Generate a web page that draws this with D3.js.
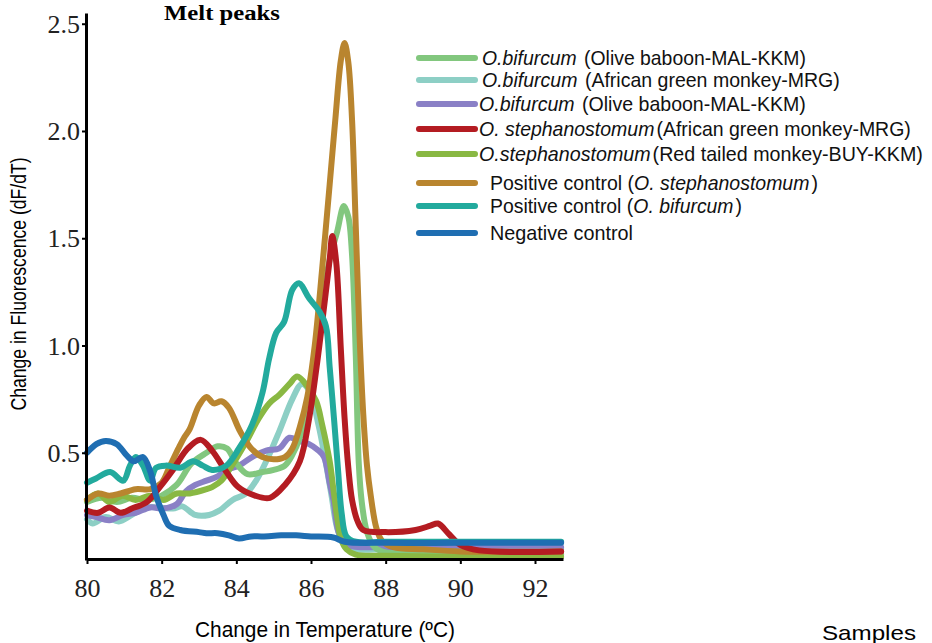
<!DOCTYPE html>
<html>
<head>
<meta charset="utf-8">
<style>
  body { margin: 0; background: #fff; }
  svg { display: block; }
</style>
</head>
<body>
<script src="https://cdn.jsdelivr.net/npm/d3@7"></script>
<script>

// melt curves, [temperature (C), dF/dT]
var bifurcumBaboon1 = [[80.0,0.27],[80.4,0.29],[80.8,0.27],[81.2,0.29],[81.6,0.28],[82.0,0.30],[82.4,0.35],[82.8,0.45],[83.2,0.50],[83.5,0.53],[83.75,0.52],[84.0,0.45],[84.3,0.40],[84.7,0.41],[85.0,0.42],[85.3,0.44],[85.5,0.49],[85.7,0.57],[85.9,0.70],[86.1,0.95],[86.3,1.20],[86.5,1.40],[86.7,1.53],[86.88,1.65],[87.0,1.60],[87.1,1.42],[87.2,0.95],[87.28,0.45],[87.36,0.27],[87.5,0.13],[87.7,0.06],[88.0,0.035],[89.0,0.03],[90.0,0.025],[91.0,0.025],[92.7,0.025]];
var bifurcumGreenMonkey = [[80.0,0.19],[80.15,0.17],[80.5,0.20],[80.85,0.18],[81.2,0.21],[81.58,0.245],[81.9,0.245],[82.3,0.24],[82.55,0.25],[82.9,0.21],[83.27,0.21],[83.54,0.23],[83.9,0.28],[84.26,0.31],[84.53,0.37],[84.8,0.46],[85.15,0.60],[85.5,0.75],[85.75,0.82],[85.95,0.79],[86.2,0.63],[86.4,0.45],[86.55,0.30],[86.7,0.15],[86.9,0.07],[87.2,0.05],[88.0,0.05],[90.0,0.05],[92.7,0.05]];
var bifurcumBaboon2 = [[80.0,0.21],[80.25,0.20],[80.6,0.185],[80.97,0.21],[81.3,0.22],[81.7,0.245],[82.05,0.24],[82.4,0.26],[82.65,0.32],[82.9,0.35],[83.2,0.37],[83.5,0.39],[83.73,0.42],[84.07,0.44],[84.42,0.48],[84.8,0.51],[85.15,0.52],[85.42,0.57],[85.68,0.555],[85.95,0.54],[86.2,0.51],[86.35,0.48],[86.5,0.36],[86.6,0.28],[86.76,0.12],[87.0,0.07],[88.0,0.06],[90.0,0.06],[92.7,0.06]];
var stephGreenMonkey = [[80.0,0.23],[80.3,0.22],[80.6,0.245],[80.9,0.22],[81.2,0.24],[81.6,0.27],[81.95,0.34],[82.3,0.42],[82.7,0.52],[83.05,0.56],[83.35,0.51],[83.7,0.42],[84.05,0.34],[84.5,0.30],[84.9,0.29],[85.3,0.35],[85.7,0.46],[85.95,0.66],[86.15,0.90],[86.35,1.18],[86.5,1.40],[86.57,1.51],[86.68,1.38],[86.8,0.98],[86.9,0.66],[87.0,0.43],[87.1,0.28],[87.25,0.18],[87.4,0.14],[88.0,0.13],[88.8,0.14],[89.2,0.16],[89.4,0.17],[89.7,0.12],[90.0,0.07],[90.5,0.045],[92.7,0.04]];
var stephRedTailed = [[80.0,0.28],[80.3,0.31],[80.6,0.27],[80.95,0.30],[81.3,0.28],[81.7,0.30],[82.05,0.28],[82.4,0.31],[82.75,0.31],[83.2,0.33],[83.35,0.34],[83.6,0.37],[83.88,0.44],[84.26,0.55],[84.6,0.66],[84.88,0.73],[85.15,0.77],[85.42,0.82],[85.63,0.855],[85.9,0.81],[86.14,0.74],[86.3,0.63],[86.5,0.46],[86.6,0.33],[86.7,0.20],[86.8,0.10],[86.95,0.05],[87.2,0.025],[88.0,0.02],[90.0,0.015],[92.7,0.015]];
var posSteph = [[80.0,0.28],[80.3,0.31],[80.6,0.30],[80.9,0.31],[81.3,0.33],[81.7,0.33],[82.0,0.36],[82.2,0.43],[82.45,0.52],[82.6,0.57],[82.75,0.61],[83.0,0.72],[83.2,0.76],[83.4,0.73],[83.6,0.74],[83.8,0.71],[84.1,0.60],[84.4,0.52],[84.7,0.48],[85.0,0.47],[85.3,0.48],[85.5,0.52],[85.7,0.62],[85.9,0.76],[86.1,1.00],[86.3,1.36],[86.5,1.75],[86.65,2.05],[86.8,2.33],[86.9,2.41],[87.0,2.32],[87.1,2.05],[87.2,1.55],[87.3,1.05],[87.4,0.68],[87.5,0.44],[87.6,0.30],[87.75,0.15],[87.9,0.09],[88.2,0.06],[89.0,0.05],[90.0,0.04],[92.7,0.04]];
var posBifurcum = [[80.0,0.36],[80.24,0.38],[80.62,0.41],[80.97,0.37],[81.15,0.44],[81.31,0.48],[81.5,0.44],[81.69,0.37],[81.85,0.43],[82.12,0.44],[82.5,0.43],[82.84,0.46],[83.1,0.44],[83.35,0.42],[83.73,0.44],[84.07,0.52],[84.42,0.63],[84.7,0.78],[84.88,0.94],[85.07,1.06],[85.28,1.11],[85.5,1.26],[85.68,1.29],[85.95,1.22],[86.22,1.16],[86.4,1.09],[86.5,0.90],[86.62,0.65],[86.72,0.43],[86.82,0.22],[86.95,0.11],[87.2,0.085],[88.0,0.085],[90.0,0.085],[92.7,0.085]];
var negControl = [[80.0,0.50],[80.25,0.54],[80.5,0.555],[80.8,0.54],[81.05,0.49],[81.25,0.46],[81.5,0.48],[81.7,0.41],[81.85,0.30],[82.05,0.21],[82.2,0.16],[82.5,0.14],[83.0,0.13],[83.2,0.125],[83.5,0.125],[83.8,0.115],[84.07,0.10],[84.4,0.11],[84.7,0.11],[85.2,0.115],[85.6,0.115],[86.0,0.11],[86.6,0.105],[86.9,0.085],[88.0,0.08],[90.0,0.08],[92.7,0.08]];

var seriesColors = ["#82c77e", "#8dcfc5", "#8a80c6", "#b41c22", "#89b843", "#b9852f", "#22aa9d", "#1f6eb2"];

// legend text, [text, italic]
var legendLabels = [
	[["O.bifurcum", 1], [" (Olive baboon-MAL-KKM)", 0]],
	[["O.bifurcum", 1], [" (African green monkey-MRG)", 0]],
	[["O.bifurcum", 1], [" (Olive baboon-MAL-KKM)", 0]],
	[["O. stephanostomum", 1], ["(African green monkey-MRG)", 0]],
	[["O.stephanostomum", 1], ["(Red tailed monkey-BUY-KKM)", 0]],
	[["Positive control (", 0], ["O. stephanostomum", 1], [")", 0]],
	[["Positive control (", 0], ["O. bifurcum", 1], [")", 0]],
	[["Negative control", 0]]
];

var xTicks = [80, 82, 84, 86, 88, 90, 92];
var yTicks = [0.5, 1.0, 1.5, 2.0, 2.5];

var allSeries = [bifurcumBaboon1, bifurcumGreenMonkey, bifurcumBaboon2, stephGreenMonkey,
	stephRedTailed, posSteph, posBifurcum, negControl];
// order in which the curves were stacked
var drawOrder = [1, 2, 0, 4, 5, 3, 6, 7];

var width = 932, height = 643;

var svg = d3.select("body").append("svg")
	.attr("width", width)
	.attr("height", height)
	.style("background", "#fff");

var xScale = d3.scaleLinear().domain([80, 92.75]).range([87, 563]);
var yScale = d3.scaleLinear().domain([0, 2.55]).range([560, 13]);

var serif = "'Liberation Serif', 'Times New Roman', serif";
var sans = "'Liberation Sans', Arial, sans-serif";

// title, sits right at the top edge
svg.append("text")
	.attr("x", 222).attr("y", 20)
	.attr("text-anchor", "middle")
	.attr("font-family", serif)
	.attr("font-weight", "bold")
	.attr("font-size", 20)
	.attr("textLength", 116)
	.attr("lengthAdjust", "spacingAndGlyphs")
	.text("Melt peaks");

var line = d3.line()
	.x(d => xScale(d[0]))
	.y(d => yScale(d[1]))
	.curve(d3.curveCatmullRom.alpha(0.5));

svg.append("g").selectAll("path")
	.data(drawOrder)
	.enter().append("path")
	.attr("d", i => line(allSeries[i]))
	.attr("fill", "none")
	.attr("stroke", i => seriesColors[i])
	.attr("stroke-width", 6)
	.attr("stroke-linejoin", "round")
	.attr("stroke-linecap", "round");

// axes
var xAxis = svg.append("g")
	.attr("transform", "translate(0," + (yScale(0) - 1) + ")")
	.call(d3.axisBottom(xScale).tickValues(xTicks).tickSize(5).tickSizeOuter(0).tickFormat(d3.format("d")));

var yAxis = svg.append("g")
	.attr("transform", "translate(" + (xScale(80) - 1) + ",0)")
	.call(d3.axisLeft(yScale).tickValues(yTicks).tickSize(4).tickSizeOuter(0).tickFormat(d3.format(".1f")));

xAxis.select(".domain").attr("stroke", "#000").attr("stroke-width", 3);
yAxis.select(".domain").attr("stroke", "#000").attr("stroke-width", 3);
xAxis.selectAll(".tick line").attr("stroke-width", 2);
yAxis.selectAll(".tick line").attr("stroke-width", 2);

xAxis.selectAll(".tick text")
	.attr("y", 38).attr("dy", 0)
	.attr("font-family", serif)
	.attr("font-size", 26)
	.attr("fill", "#222");

yAxis.selectAll(".tick text")
	.attr("x", -6).attr("dy", "0.33em")
	.attr("font-family", serif)
	.attr("font-size", 26)
	.attr("fill", "#222");

// axis titles
svg.append("text")
	.attr("x", 325).attr("y", 637)
	.attr("text-anchor", "middle")
	.attr("font-family", sans)
	.attr("font-size", 22)
	.attr("textLength", 260)
	.attr("lengthAdjust", "spacingAndGlyphs")
	.text("Change in Temperature (\u00baC)");

svg.append("text")
	.attr("transform", "translate(26,284) rotate(-90)")
	.attr("text-anchor", "middle")
	.attr("font-family", sans)
	.attr("font-size", 22)
	.attr("textLength", 253)
	.attr("lengthAdjust", "spacingAndGlyphs")
	.text("Change in Fluorescence (dF/dT)");

svg.append("text")
	.attr("x", 822).attr("y", 640)
	.attr("font-family", sans)
	.attr("font-size", 21)
	.attr("textLength", 94)
	.attr("lengthAdjust", "spacingAndGlyphs")
	.text("Samples");

// legend
var legendY = [58, 80, 104, 129, 154, 183, 206, 233];
var legendTextX = [482, 482, 479, 479, 479, 490, 490, 490];
var legendTextEnd = [806, 840, 806, 911, 923, 818, 742, 633];

var legend = svg.append("g");

legend.selectAll("line")
	.data(legendLabels)
	.enter().append("line")
	.attr("x1", 419).attr("x2", 475)
	.attr("y1", (d, i) => legendY[i]).attr("y2", (d, i) => legendY[i])
	.attr("stroke", (d, i) => seriesColors[i])
	.attr("stroke-width", 6)
	.attr("stroke-linecap", "round");

// each label part is its own text, laid end to end, then the row is
// squeezed to the width it has in the figure
legendLabels.forEach((parts, i) => {
	var row = legend.append("g");
	var cx = 0;
	parts.forEach(part => {
		var t = row.append("text")
			.attr("x", cx)
			.attr("y", 0)
			.attr("font-family", sans)
			.attr("font-size", 20)
			.attr("font-style", part[1] ? "italic" : "normal")
			.attr("fill", "#111")
			.attr("xml:space", "preserve")
			.style("white-space", "pre")
			.text(part[0]);
		cx += t.node().getComputedTextLength() + (part[1] ? 2 : 0);
	});
	var k = (legendTextEnd[i] - legendTextX[i]) / cx;
	row.attr("transform", "translate(" + legendTextX[i] + "," + (legendY[i] + 7) + ") scale(" + k + ",1)");
});

</script>
</body>
</html>
